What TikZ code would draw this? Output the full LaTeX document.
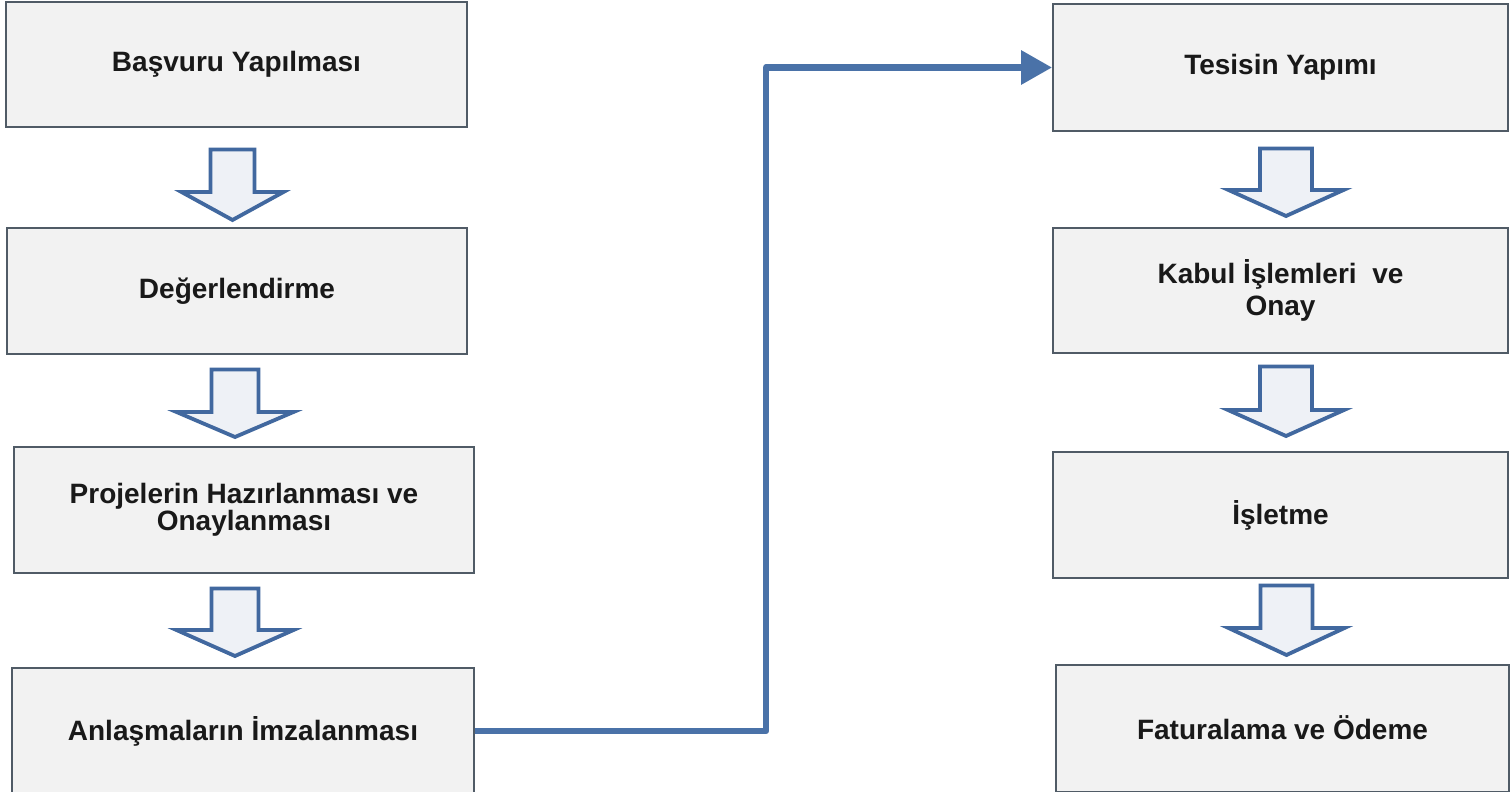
\documentclass[tikz,border=0pt]{standalone}
\usepackage{fontspec}
\setmainfont{Liberation Sans}
\usetikzlibrary{arrows.meta}
\definecolor{boxfill}{HTML}{F2F2F2}
\definecolor{boxline}{HTML}{505B66}
\definecolor{arrline}{HTML}{41689F}
\definecolor{arrfill}{HTML}{EEF1F6}
\definecolor{connblue}{HTML}{4A72A8}
\newcommand\hollowdown[6]{% x, top, wing y, tip y, shaft hw, wing hw
  \draw[harrow] ({#1-#5},#2) -- ({#1+#5},#2) -- ({#1+#5},#3) -- ({#1+#6},#3)
    -- (#1,#4) -- ({#1-#6},#3) -- ({#1-#5},#3) -- cycle;}
\tikzset{
  stepbox/.style={draw=boxline, line width=2pt, fill=boxfill, inner sep=0pt,
    align=center, text=black!90, font=\bfseries\fontsize{28}{27}\selectfont},
  harrow/.style={draw=arrline, line width=3.8pt, fill=arrfill, line join=miter},
  conn/.style={draw=connblue, line width=6.5pt, line join=round,
    -{Triangle[length=31pt,width=33pt]}}
}
\begin{document}
\begin{tikzpicture}[x=1pt,y=-1pt]
\useasboundingbox[fill=white] (0,0) rectangle (1512,792);
% left column
\node[stepbox, minimum width=461pt, minimum height=125pt] (L1) at (236.5,64.5) {Başvuru Yapılması};
\node[stepbox, minimum width=460pt, minimum height=126pt] (L2) at (237,291) {Değerlendirme};
\node[stepbox, minimum width=460pt, minimum height=126pt] (L3) at (244,510) {Projelerin Hazırlanması ve\\Onaylanması};
\node[stepbox, minimum width=462pt, minimum height=126pt] (L4) at (243,731) {Anlaşmaların İmzalanması};
% right column
\node[stepbox, minimum width=455pt, minimum height=127pt] (R1) at (1280.5,67.5) {Tesisin Yapımı};
\node[stepbox, minimum width=455pt, minimum height=125pt, font=\bfseries\fontsize{28}{32}\selectfont] (R2) at (1280.5,290.5) {Kabul İşlemleri\ \ ve\\Onay};
\node[stepbox, minimum width=455pt, minimum height=126pt] (R3) at (1280.5,515) {İşletme};
\node[stepbox, minimum width=453pt, minimum height=127pt] (R4) at (1282.5,728) {Faturalama ve Ödeme};
% hollow arrows
\hollowdown{232.5}{149.5}{192}{220}{22}{51}
\hollowdown{235}{369.5}{412}{437}{23.5}{58.5}
\hollowdown{235}{588.5}{630}{656}{23.5}{58.5}
\hollowdown{1286}{148.5}{190}{216}{26}{57.5}
\hollowdown{1286}{366.5}{410}{436}{26}{58}
\hollowdown{1286.5}{585.5}{628}{655}{26}{58}
% connector
\coordinate (bend) at (766,67.5);
\draw[conn] (L4.east) -| (bend) -- (R1.west);
\end{tikzpicture}
\end{document}
